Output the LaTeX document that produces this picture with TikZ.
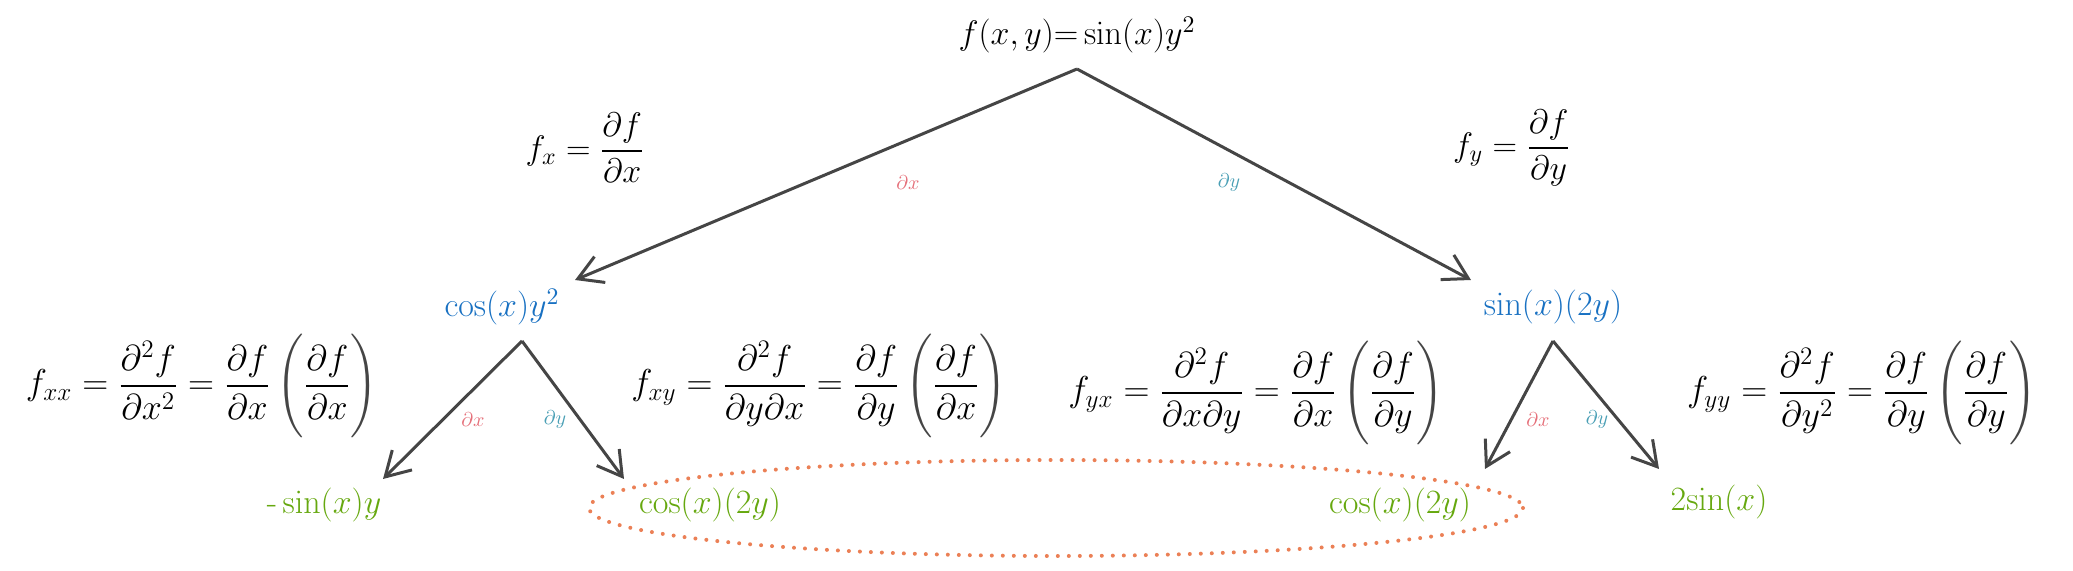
\RequirePackage{fix-cm}
\documentclass[tikz,border=0pt]{standalone}
\usepackage{amsmath}
\usetikzlibrary{arrows.meta}
\definecolor{inkblue}{HTML}{1971C2}
\definecolor{inkgreen}{HTML}{66A80F}
\definecolor{dxred}{HTML}{E5707A}
\definecolor{dyteal}{HTML}{4A9FB5}
\definecolor{ovalorange}{HTML}{EB8056}
\definecolor{pen}{HTML}{454545}
\newcommand{\bigpar}[1]{{\color{pen}\Bigg#1}}
\newcommand{\eqsp}{\;{=}\;}

\begin{document}
\begin{tikzpicture}[x=0.5pt, y=-0.5pt,
    expr/.style={font=\fontsize{17}{20}\selectfont, inner sep=1pt},
    rule/.style={font=\fontsize{18}{21}\selectfont, inner sep=1pt},
    deriv/.style={font=\fontsize{10}{11}\selectfont, inner sep=0pt},
    branch/.style={pen, line width=1.5pt, -{Straight Barb[length=12pt, width=14pt]}}]
  \useasboundingbox (0,0) rectangle (2073,571);
  % Ausgangsfunktion und erste Ableitungen
  \node[expr] (f) at (1077,35) {$f(x,y){=}\sin(x)y^2$};
  \node[expr] (fx) at (585,148) {$f_x=\dfrac{\partial f}{\partial x}$};
  \node[expr] (fy) at (1512,148) {$f_y=\dfrac{\partial f}{\partial y}$};
  \node[expr, inkblue] (gx) at (502,307) {$\cos(x)y^2$};
  \node[expr, inkblue] (gy) at (1553,307) {$\sin(x)(2y)$};
  \coordinate (top) at (1077,69);
  \coordinate (topL) at (575,280);
  \coordinate (topR) at (1471,280);
  \draw[branch] (top) -- (topL);
  \draw[branch] (top) -- (topR);
  \node[deriv, dxred] (dx0) at (908,183) {$\partial x$};
  \node[deriv, dyteal] (dy0) at (1229,183) {$\partial y$};
  % zweite Ableitungen
  \node[rule] (fxx) at (202,386)
    {$f_{xx}\eqsp\dfrac{\partial^2 f}{\partial x^2}\eqsp\dfrac{\partial f}{\partial x}\,\bigpar(\dfrac{\partial f}{\partial x}\bigpar)$};
  \node[rule] (fxy) at (819,386)
    {$f_{xy}\eqsp\dfrac{\partial^2 f}{\partial y\partial x}\eqsp\dfrac{\partial f}{\partial y}\,\bigpar(\dfrac{\partial f}{\partial x}\bigpar)$};
  \node[rule] (fyx) at (1256,393)
    {$f_{yx}\eqsp\dfrac{\partial^2 f}{\partial x\partial y}\eqsp\dfrac{\partial f}{\partial x}\,\bigpar(\dfrac{\partial f}{\partial y}\bigpar)$};
  \node[rule] (fyy) at (1862,393)
    {$f_{yy}\eqsp\dfrac{\partial^2 f}{\partial y^2}\eqsp\dfrac{\partial f}{\partial y}\,\bigpar(\dfrac{\partial f}{\partial y}\bigpar)$};
  \coordinate (apL) at (522,341);
  \coordinate (apR) at (1553,341);
  \coordinate (tipLL) at (383,479);
  \coordinate (tipLR) at (624,479);
  \coordinate (tipRL) at (1485,469);
  \coordinate (tipRR) at (1659,469);
  \draw[branch] (apL) -- (tipLL);
  \draw[branch] (apL) -- (tipLR);
  \draw[branch] (apR) -- (tipRL);
  \draw[branch] (apR) -- (tipRR);
  \node[deriv, dxred] (dx1) at (473,420) {$\partial x$};
  \node[deriv, dyteal] (dy1) at (555,420) {$\partial y$};
  \node[deriv, dxred] (dx2) at (1538,420) {$\partial x$};
  \node[deriv, dyteal] (dy2) at (1597,420) {$\partial y$};
  \node[expr, inkgreen] (hxx) at (324,505) {$\text{-}\sin(x)y$};
  \node[expr, inkgreen] (hxy) at (710,505) {$\cos(x)(2y)$};
  \node[expr, inkgreen] (hyx) at (1400,505) {$\cos(x)(2y)$};
  \node[expr, inkgreen] (hyy) at (1719,502) {$2{\sin}(x)$};
  % gemischte Ableitungen gleich
  \draw[ovalorange, line width=2pt, line cap=round, dash pattern=on 0pt off 5.5pt] (1056,508) ellipse (467 and 48);
\end{tikzpicture}
\end{document}
